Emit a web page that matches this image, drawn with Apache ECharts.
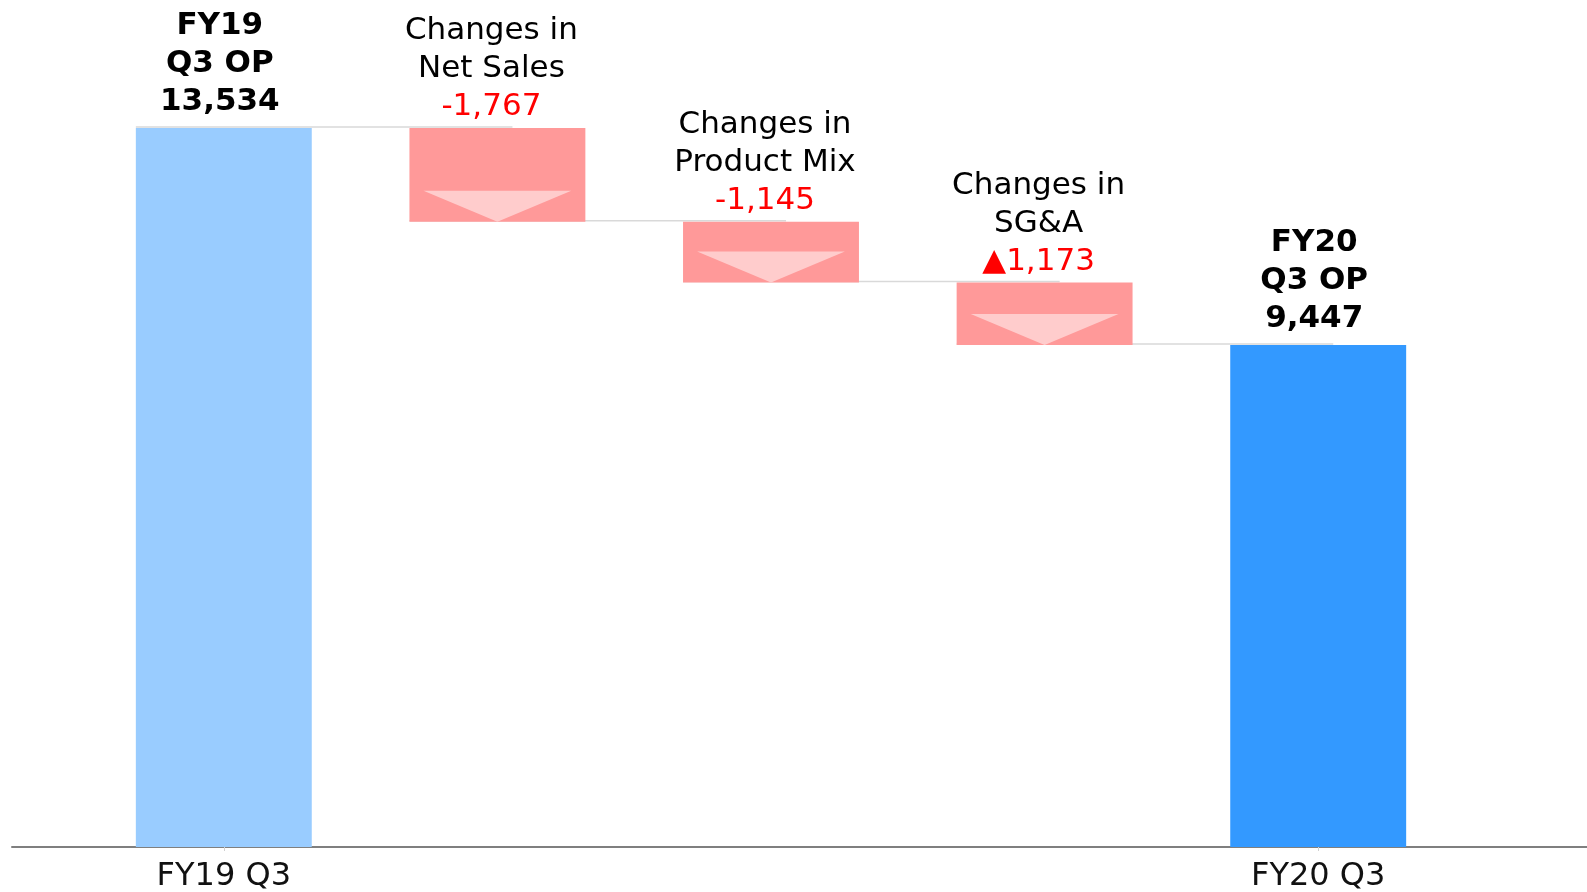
<!DOCTYPE html>
<html>
<head>
<meta charset="utf-8">
<script src="https://cdn.jsdelivr.net/npm/echarts@6/dist/echarts.min.js"></script>
<style>
  html, body { margin: 0; padding: 0; background: #fff; }
  #chart { width: 1587px; height: 892px; }
</style>
</head>
<body>
<div id="chart"></div>
<script>
// data
const axisLabels = ['FY19 Q3', '', '', '', 'FY20 Q3'];
const titles = ['FY19\nQ3 OP', 'Changes in\nNet Sales', 'Changes in\nProduct Mix', 'Changes in\nSG&A', 'FY20\nQ3 OP'];
const totals = [13534, null, null, null, 9447];
const changes = [null, -1767, -1145, -1173, null];
const changeMarks = [null, '-', '-', '▲', null];

// running level after each step
const levels = [];
let run = 0;
totals.forEach((t, i) => {
  run = t != null ? t : run + changes[i];
  levels.push(run);
});

const baseData = changes.map((c, i) => c != null ? levels[i] : 0);
const totalData = totals.map(t => t != null ? t : '-');
const changeData = changes.map(c => c != null ? -c : '-');
const connectorData = levels.slice(0, -1).map((v, i) => [i, v]);
const arrowData = [];
changes.forEach((c, i) => { if (c != null) arrowData.push([i, levels[i]]); });

const font = 'DejaVu Sans';
const barPct = 0.643;

var myChart = echarts.init(document.getElementById('chart'));
let option = {
  animation: false,
  textStyle: { fontFamily: font },
  grid: [
    { left: 87, right: 132, top: 50, bottom: 45, outerBoundsMode: 'none' },
    { left: 12, right: 0, bottom: 45, height: 1, outerBoundsMode: 'none' }
  ],
  xAxis: [
    {
      type: 'category',
      data: axisLabels,
      gridIndex: 0,
      axisLine: { show: false },
      axisTick: {
        show: true,
        alignWithLabel: true,
        length: 4,
        interval: (idx, val) => val !== '',
        lineStyle: { color: '#d0d0d0' }
      },
      axisLabel: { color: '#111', fontSize: 32, fontFamily: font, margin: 14, interval: 0 }
    },
    {
      type: 'value',
      gridIndex: 1,
      min: 0,
      max: 1,
      axisLine: { show: true, onZero: false, lineStyle: { color: '#7f7f7f', width: 2 } },
      axisTick: { show: false },
      axisLabel: { show: false },
      splitLine: { show: false }
    }
  ],
  yAxis: [
    { type: 'value', gridIndex: 0, min: 0, max: 15000, show: false, splitLine: { show: false } },
    { type: 'value', gridIndex: 1, show: false, splitLine: { show: false } }
  ],
  series: [
    {
      // connector lines
      type: 'custom',
      z: 1,
      data: connectorData,
      renderItem: (params, api) => {
        const i = api.value(0);
        const band = api.size([1, 0])[0];
        const p0 = api.coord([i, api.value(1)]);
        const p1 = api.coord([i + 1, api.value(1)]);
        return {
          type: 'line',
          shape: { x1: p0[0] - band * barPct / 2, y1: p0[1] - 1, x2: p1[0] + band * 0.055, y2: p1[1] - 1 },
          style: { stroke: '#d9d9d9', lineWidth: 1.5 }
        };
      }
    },
    {
      name: 'base',
      type: 'bar',
      stack: 'wf',
      barWidth: (barPct * 100) + '%',
      itemStyle: { color: 'transparent' },
      silent: true,
      data: baseData
    },
    {
      name: 'total',
      type: 'bar',
      stack: 'wf',
      barWidth: (barPct * 100) + '%',
      itemStyle: {
        color: (p) => p.dataIndex === 0 ? '#99CCFF' : '#3399FF'
      },
      label: {
        show: true,
        position: 'top',
        distance: 7,
        offset: [-4, 0],
        color: '#000',
        fontSize: 31,
        fontWeight: 'bold',
        lineHeight: 38,
        fontFamily: font,
        formatter: (p) => titles[p.dataIndex] + '\n' + totals[p.dataIndex].toLocaleString('en-US')
      },
      data: totalData
    },
    {
      name: 'change',
      type: 'bar',
      stack: 'wf',
      barWidth: (barPct * 100) + '%',
      itemStyle: { color: '#FF9999' },
      label: {
        show: true,
        position: 'top',
        distance: 2,
        offset: [-6, 0],
        fontFamily: font,
        formatter: (p) => {
          const i = p.dataIndex;
          const lines = titles[i].split('\n').map(s => '{t|' + s + '}');
          lines.push('{r|' + changeMarks[i] + Math.abs(changes[i]).toLocaleString('en-US') + '}');
          return lines.join('\n');
        },
        rich: {
          t: { color: '#000', fontSize: 31, lineHeight: 38, fontFamily: font },
          r: { color: '#FF0000', fontSize: 31, lineHeight: 38, fontFamily: font }
        }
      },
      data: changeData
    },
    {
      // down arrows inside change bars
      type: 'custom',
      z: 3,
      data: arrowData,
      renderItem: (params, api) => {
        const i = api.value(0);
        const band = api.size([1, 0])[0];
        const w = band * barPct;
        const inset = w * 0.08;
        const p = api.coord([i, api.value(1)]);
        const left = p[0] - w / 2 + inset;
        const right = p[0] + w / 2 - inset;
        const h = 31;
        return {
          type: 'polygon',
          shape: { points: [[left, p[1] - h], [right, p[1] - h], [p[0], p[1]]] },
          style: { fill: '#FFCCCC' }
        };
      }
    }
  ]
};
myChart.setOption(option);
</script>
</body>
</html>
